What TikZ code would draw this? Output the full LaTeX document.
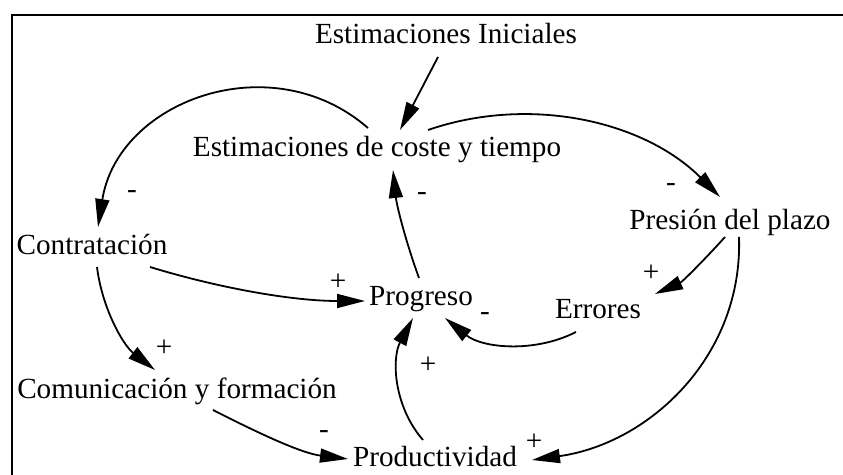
\documentclass[tikz,border=0pt]{standalone}
\usepackage{fontspec}
\setmainfont{Liberation Serif}
\usetikzlibrary{arrows.meta}

\begin{document}
\begin{tikzpicture}[x=0.5pt, y=0.5pt,
    var/.style={inner sep=0pt, anchor=base, font=\fontsize{14.6pt}{17pt}\selectfont},
    sgn/.style={inner sep=0pt, font=\fontsize{14.6pt}{17pt}\selectfont},
    link/.style={line width=0.9pt, -{Triangle[length=14pt, width=7pt]}}]
\clip (0,0) rectangle (843,475);
    % frame
    \draw[line width=1.4pt] (12,-10) |- (860,460);

    % variables
    \node[var] (ini)  at (446,431) {Estimaciones Iniciales};
    \node[var] (est)  at (377,318) {Estimaciones de coste y tiempo};
    \node[var] (con)  at (92,220)  {Contratación};
    \node[var] (pro)  at (421,169) {Progreso};
    \node[var] (err)  at (598,156) {Errores};
    \node[var] (pre)  at (730,245) {Presión del plazo};
    \node[var] (com)  at (177,76)  {Comunicación y formación};
    \node[var] (prod) at (435,8)   {Productividad};

    % links
    \draw[link] ([shift={(-8,-13)}]ini.base) -- ([shift={(23,27)}]est.base);
    \draw[link] ([shift={(-9,29)}]est.base) to[out=139, in=81, looseness=1.14] ([shift={(6,28)}]con.base);
    \draw[link] ([shift={(51,27)}]est.base) to[out=19, in=135, looseness=0.92] ([shift={(-10,33)}]pre.base);
    \draw[link] ([shift={(-2,28)}]pro.base) to[out=110, in=-84, looseness=0.85] ([shift={(16,-13)}]est.base);
    \draw[link] ([shift={(-5,-7)}]pre.base) to[out=228, in=24, looseness=0.85] ([shift={(57,25)}]err.base);
    \draw[link] ([shift={(9,-7)}]pre.base) to[out=-88, in=8, looseness=1] ([shift={(97,7)}]prod.base);
    \draw[link] ([shift={(-22,-13)}]err.base) to[out=207, in=-39, looseness=0.92] ([shift={(24,-12)}]pro.base);
    \draw[link] ([shift={(58,-12)}]con.base) to[out=-17, in=180, looseness=0.85] ([shift={(-56,5)}]pro.base);
    \draw[link] ([shift={(5,-12)}]con.base) to[out=-83, in=142, looseness=0.885] ([shift={(-22,29)}]com.base);
    \draw[link] ([shift={(36,-11)}]com.base) to[out=-27, in=173, looseness=0.85] ([shift={(-87,8)}]prod.base);
    \draw[link] ([shift={(-12,27)}]prod.base) to[out=131, in=-118, looseness=0.95] ([shift={(-8,-12)}]pro.base);

    % polarity
    \node[sgn] (s1)  at (132,280) {-};
    \node[sgn] (s2)  at (671,287) {-};
    \node[sgn] (s3)  at (422,278) {-};
    \node[sgn] (s4)  at (651,202) {+};
    \node[sgn] (s5)  at (534,33)  {+};
    \node[sgn] (s6)  at (485,158) {-};
    \node[sgn] (s7)  at (338,193) {+};
    \node[sgn] (s8)  at (164,127) {+};
    \node[sgn] (s9)  at (324,40)  {-};
    \node[sgn] (s10) at (428,110) {+};
\end{tikzpicture}
\end{document}
